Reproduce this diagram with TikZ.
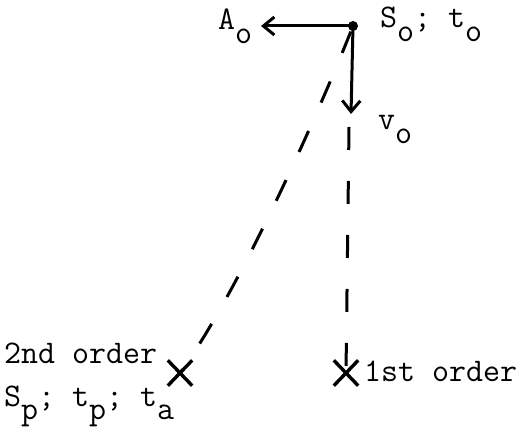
\documentclass[tikz,border=0pt]{standalone}
\usetikzlibrary{arrows.meta,shapes.misc}
\newcommand\sbx[1]{\raisebox{-0.4em}{#1}}
\begin{document}
\begin{tikzpicture}[x=1pt,y=-1pt,
  lbl/.style={inner sep=0pt,anchor=base west,font=\ttfamily\fontsize{33}{38}\selectfont},
  vec/.style={line width=3pt,-{Straight Barb[length=11pt,width=18pt,line width=3pt]}},
  dsh/.style={line width=3pt,dash pattern=on 23pt off 31pt},
  xmark/.style={cross out,draw,line width=3.4pt,minimum width=21pt,minimum height=22pt,inner sep=0pt}]
\useasboundingbox (0,0) rectangle (524,438);
\fill (353,26) circle (5pt);
\coordinate (s0) at (353,26);
\coordinate (aend) at (261,26);
\coordinate (vend) at (351,114);
\coordinate (vstart) at (349,127);
\node[xmark] (x2) at (180,373) {};
\node[xmark] (x1) at (346,373) {};
\node[lbl] (ao) at (218,30) {A\sbx{o}};
\node[lbl] (so) at (380,28) {S\sbx{o}; t\sbx{o}};
\node[lbl] (vo) at (378,130) {v\sbx{o}};
\node[lbl] (ord2) at (4,363) {2nd order};
\node[lbl] (sp) at (4,406) {S\sbx{p}; t\sbx{p}; t\sbx{a}};
\node[lbl] (ord1) at (364,381) {1st order};
\draw[vec] (s0) -- (aend);
\draw[vec] (s0) -- (vend);
\draw[dsh] (vstart) -- (x1.center);
\draw[dsh,dash phase=-6pt] (s0) .. controls (320,110) and (240,290) .. (x2.center);
\end{tikzpicture}
\end{document}
